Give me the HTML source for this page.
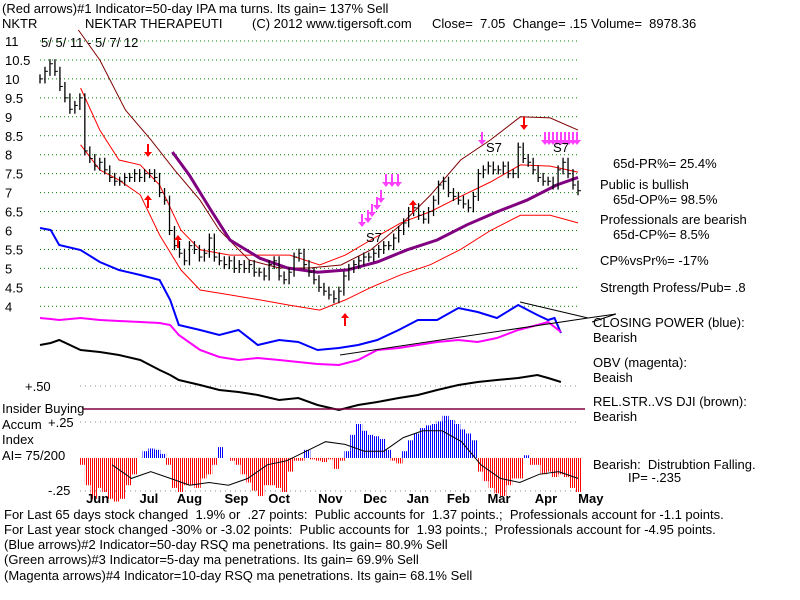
<!DOCTYPE html>
<html><head><meta charset="utf-8">
<style>
body{margin:0;background:#fff;}
svg{display:block;}
text{font-family:"Liberation Sans",Arial,sans-serif;font-size:13px;fill:#000;white-space:pre;}
</style></head>
<body>
<svg id="chart" width="800" height="600" viewBox="0 0 800 600" xml:space="preserve">
<defs>
<pattern id="stripeR" width="2" height="4" patternUnits="userSpaceOnUse"><rect width="1" height="4" fill="#ff0000"/></pattern>
<pattern id="stripeB" width="2" height="4" patternUnits="userSpaceOnUse"><rect width="1" height="4" fill="#0000ff"/></pattern>
</defs>
<text x="2" y="13">(Red arrows)#1 Indicator=50-day IPA ma turns. Its gain= 137% Sell</text>
<text x="2" y="28">NKTR</text>
<text x="85" y="28">NEKTAR THERAPEUTI</text>
<text x="252" y="28">(C) 2012 www.tigersoft.com</text>
<text x="432" y="28">Close=  7.05  Change= .15 Volume=  8978.36</text>
<text x="41" y="47">5/ 5/ 11 - 5/ 7/ 12</text>
<g id="yaxis"></g>
<g id="grid"></g>
<g id="bands"></g>
<g id="bars"></g>
<g id="ind"></g>
<g id="accum"></g>
<g id="marks"></g>
<text x="25" y="391">+.50</text>
<text x="2" y="413">Insider Buying</text>
<text x="2" y="429">Accum</text>
<text x="48" y="427">+.25</text>
<text x="2" y="444">Index</text>
<text x="2" y="460">AI= 75/200</text>
<text x="48" y="495">-.25</text>
<g id="months"></g>
<g>
<text x="613" y="168">65d-PR%= 25.4%</text>
<text x="600" y="189">Public is bullish</text>
<text x="613" y="204">65d-OP%= 98.5%</text>
<text x="600" y="224">Professionals are bearish</text>
<text x="613" y="239">65d-CP%= 8.5%</text>
<text x="600" y="265">CP%vsPr%= -17%</text>
<text x="600" y="292">Strength Profess/Pub= .8</text>
<text x="593" y="327">CLOSING POWER (blue):</text>
<text x="593" y="342">Bearish</text>
<text x="593" y="367">OBV (magenta):</text>
<text x="593" y="382">Beaish</text>
<text x="593" y="406">REL.STR..VS DJI (brown):</text>
<text x="593" y="421">Bearish</text>
<text x="593" y="469">Bearish:  Distrubtion Falling.</text>
<text x="628" y="482">IP= -.235</text>
</g>
<g>
<text x="4" y="519">For Last 65 days stock changed  1.9% or  .27 points:  Public accounts for  1.37 points.;  Professionals account for -1.1 points.</text>
<text x="4" y="534">For Last year stock changed -30% or -3.02 points:  Public accounts for  1.93 points.;  Professionals account for -4.95 points.</text>
<text x="4" y="549">(Blue arrows)#2 Indicator=50-day RSQ ma penetrations. Its gain= 80.9% Sell</text>
<text x="4" y="564">(Green arrows)#3 Indicator=5-day ma penetrations. Its gain= 69.9% Sell</text>
<text x="4" y="580">(Magenta arrows)#4 Indicator=10-day RSQ ma penetrations. Its gain= 68.1% Sell</text>
</g>
</svg>
<script>
const priceTicks=[11,10.5,10,9.5,9,8.5,8,7.5,7,6.5,6,5.5,5,4.5,4];
const priceTickLabels=["11","10.5","10","9.5","9","8.5","8","7.5","7","6.5","6","5.5","5","4.5","4"];
const months=["Jun","Jul","Aug","Sep","Oct","Nov","Dec","Jan","Feb","Mar","Apr","May"];
const monthDay=[27,51,70,92,112,136,157,177,196,215,237,258];
const closes=[10.0,10.2,10.4,10.2,9.8,9.5,9.2,9.3,9.5,8.1,7.9,7.7,7.8,7.6,7.4,7.3,7.3,7.4,7.4,7.5,7.4,7.5,7.5,7.4,7.0,6.8,6.0,5.6,5.4,5.2,5.6,5.5,5.3,5.4,5.8,5.3,5.2,5.1,5.2,5.0,5.1,5.0,5.1,4.9,4.9,4.8,5.1,5.2,4.8,4.7,4.9,5.3,5.4,5.1,4.9,4.7,4.5,4.4,4.3,4.2,4.4,4.8,5.0,5.1,5.2,5.3,5.3,5.4,5.5,5.6,5.6,5.8,6.0,6.2,6.5,6.6,6.4,6.3,6.5,6.8,7.2,7.3,7.0,6.9,6.8,6.7,6.6,6.9,7.5,7.6,7.7,7.6,7.6,7.7,7.5,7.5,8.2,7.9,7.8,7.6,7.4,7.3,7.3,7.2,7.6,7.8,7.5,7.2,7.05];
const darkDays=[18,28,40,52,63,75,84,98,112,126,141,155,169,183,197,211,225,239,252];
const darkBand=[11.29,10.5,9.18,8.39,7.6,6.8,6.01,5.22,5.01,5.01,5.09,5.49,6.15,6.94,7.86,8.39,9.0,8.97,8.65];
const envDays=[19,28,37,47,56,66,75,89,103,117,131,143,155,169,183,197,211,225,239,252];
const upperBand=[9.76,8.65,7.86,7.73,7.2,6.01,5.49,5.35,5.35,5.35,5.09,5.35,5.75,6.2,6.5,6.9,7.28,7.73,7.7,7.54];
const lowerBand=[8.26,7.6,7.33,6.94,5.88,4.96,4.43,4.3,4.17,4.03,3.9,4.17,4.5,4.83,5.1,5.5,6.0,6.4,6.4,6.2];
const maDays=[62,70,80,89,103,116,130,144,158,172,186,200,214,228,242,252];
const ma50=[8.07,7.46,6.54,5.75,5.27,5.01,4.9,4.96,5.17,5.49,5.75,6.15,6.49,6.8,7.2,7.4];
const indDays=[0,5,9,19,28,37,47,56,61,65,75,84,93,102,112,121,130,140,149,158,168,177,186,196,205,214,224,233,238,241,244];
const closingPower=[192,190,175,170,158,150,145,140,120,95,90,85,90,75,80,78,70,72,75,80,90,100,100,112,108,102,115,105,100,102,87];
const obv=[102,101,100,102,100,99,98,97,95,85,70,63,60,62,60,58,56,55,60,70,72,75,78,80,78,82,90,95,98,93,88];
const relStr=[75,77,80,70,68,65,60,50,45,40,35,30,28,25,20,22,15,10,15,18,22,25,30,35,38,40,42,45,42,40,38];
const accum=[-0.05,-0.2,-0.3,-0.22,-0.25,-0.3,-0.32,-0.3,-0.2,-0.12,0.0,0.05,0.07,0.06,0.03,-0.05,-0.22,-0.25,-0.2,-0.2,-0.22,-0.15,-0.12,-0.05,0.08,0.0,-0.02,-0.05,-0.12,-0.18,-0.24,-0.28,-0.2,-0.2,-0.22,-0.25,-0.1,-0.02,-0.02,0.06,-0.01,-0.02,-0.03,-0.01,-0.08,-0.02,0.05,0.17,0.25,0.2,0.17,0.16,0.14,0.06,-0.02,-0.04,0.05,0.13,0.18,0.22,0.24,0.25,0.27,0.31,0.28,0.25,0.21,0.18,0.13,-0.1,-0.17,-0.22,-0.26,-0.28,-0.2,-0.15,-0.15,0.02,-0.05,-0.05,-0.12,-0.1,-0.14,-0.12,-0.14,-0.22,-0.25];
const accumMa=[-0.05,-0.15,-0.1,-0.15,-0.2,-0.18,-0.2,-0.15,-0.05,-0.02,0.05,0.12,0.1,0.05,0.05,0.15,0.2,0.2,0.12,-0.05,-0.15,-0.18,-0.12,-0.1,-0.15];

const NS="http://www.w3.org/2000/svg";
const X0=40,X1=578,NDAYS=252;
const xDay=d=>X0+d*(X1-X0)/NDAYS;
const yP=p=>41+(11-p)*37.9;
const yI=v=>420-v;
const ACC0=82,ACC1=578;
const xAcc=i=>ACC0+i*(ACC1-ACC0)/(accum.length-1);
const yA=v=>458-v*136;
function mk(tag,parent,attrs){const e=document.createElementNS(NS,tag);for(const k in attrs)e.setAttribute(k,attrs[k]);document.getElementById(parent).appendChild(e);return e;}
priceTicks.forEach((p,i)=>{
 const t=mk('text','yaxis',{x:5,y:yP(p)+5});t.textContent=priceTickLabels[i];
 
 
 const l=mk('line','grid',{x1:40,x2:578,y1:yP(p),y2:yP(p),stroke:'#008000','stroke-dasharray':'1 3'});
 
 
});
[[386,'#888'],[422,'#888'],[491,'#888']].forEach(r=>{
 const l=mk('line','grid',{x1:80,x2:578,y1:r[0],y2:r[0],stroke:r[1],'stroke-dasharray':'1 4'});
 
 
});
months.forEach((m,i)=>{
 const t=mk('text','months',{x:xDay(monthDay[i]),y:503,'text-anchor':'middle','font-weight':'bold'});t.textContent=m;
 
 
});
function poly(parent,days,vals,xf,yf,attrs,name){
 const pts=vals.map((v,i)=>xf(days?days[i]:i).toFixed(1)+','+yf(v).toFixed(1)).join(' ');
 const e=mk('polyline',parent,Object.assign({points:pts,fill:'none'},attrs));
 
 
}
poly('bands',darkDays,darkBand,xDay,yP,{stroke:'#800000'},'upper-dark-band');
poly('bands',envDays,upperBand,xDay,yP,{stroke:'#ff0000'},'upper-band');
poly('bands',envDays,lowerBand,xDay,yP,{stroke:'#ff0000'},'lower-band');
poly('bands',maDays,ma50,xDay,yP,{stroke:'#800080','stroke-width':3},'ma-50');
const step=(X1-X0)/(closes.length-1);
closes.forEach((c,i)=>{
 const x=X0+i*step;const prev=i?closes[i-1]:c;
 const hi=Math.max(c,prev)+0.12,lo=Math.min(c,prev)-0.12;
 const l=mk('line','bars',{x1:x,x2:x,y1:yP(hi),y2:yP(lo),stroke:'#000','stroke-width':1.3});
 
 
 const t=mk('line','bars',{x1:x,x2:x+3,y1:yP(c),y2:yP(c),stroke:'#000'});
 
 
});
poly('ind',indDays,closingPower,xDay,yI,{stroke:'#0000ff','stroke-width':2},'closing-power-line');
poly('ind',indDays,obv,xDay,yI,{stroke:'#ff00ff','stroke-width':2},'obv-line');
poly('ind',indDays,relStr,xDay,yI,{stroke:'#000','stroke-width':2},'rel-str-line');
const tl=mk('line','ind',{x1:340,y1:355,x2:588,y2:318,stroke:'#000'});


const tl2=mk('line','ind',{x1:520,y1:302,x2:588,y2:318,stroke:'#000'});


const tl3=mk('polyline','ind',{points:'588,318 616,314 592,322',fill:'none',stroke:'#000'});


const hl=mk('line','accum',{x1:83,x2:585,y1:409,y2:409,stroke:'#800040','stroke-width':1.5});


const w=(ACC1-ACC0)/(accum.length-1);
accum.forEach((v,i)=>{
 const x=xAcc(i)-w/2;const y0=yA(0),y1=yA(v);
 const r=mk('rect','accum',{x:x,y:Math.min(y0,y1),width:w+0.5,height:Math.abs(y1-y0),fill:v>=0?'url(#stripeB)':'url(#stripeR)'});
 
 
});
poly('accum',null,accumMa,i=>ACC0+30+i*(ACC1-ACC0-30)/(accumMa.length-1),yA,{stroke:'#000'},'accum-ma-line');
function arrow(x,y,dir,col,name){
 const s=dir>0?-1:1;
 const p=mk('path','marks',{d:`M${x-1},${y} v${-8*s} h2 v${8*s} h3 l-4,${5*s} l-4,${-5*s} z`,fill:col});
 
 
}
arrow(148,152,-1,'#ff0000','sell-arrow');
arrow(148,200,1,'#ff0000','buy-arrow');
arrow(178,240,1,'#ff0000','buy-arrow');
arrow(345,318,1,'#ff0000','buy-arrow');
arrow(413,205,1,'#ff0000','buy-arrow');
arrow(524,125,-1,'#ff0000','sell-arrow');
[[362,222],[368,218],[372,212],[377,205],[381,198],[386,182],[392,182],[398,182],[482,140]].forEach(a=>arrow(a[0],a[1],-1,'#ff40ff','magenta-arrow'));
for(let x=545;x<=580;x+=4)arrow(x,140,-1,'#ff40ff','magenta-arrow');
[['S7',366,242],['S7',486,152],['S7',553,152]].forEach(s=>{
 const t=mk('text','marks',{x:s[1],y:s[2]});t.textContent=s[0];
 
 
});
</script>
</body></html>
